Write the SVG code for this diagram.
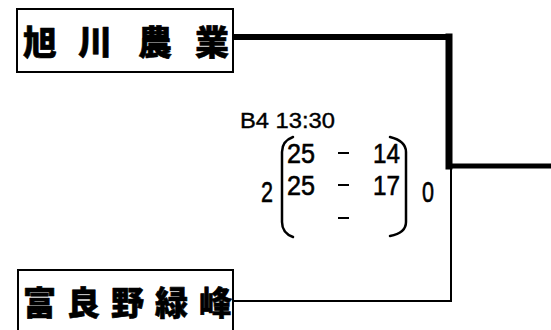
<svg xmlns="http://www.w3.org/2000/svg" width="551" height="330" viewBox="0 0 551 330">
<style>
.box{fill:#fff;stroke:#000;stroke-width:2}
.team{font-family:"Noto Sans CJK JP","Noto Sans CJK SC",sans-serif;font-weight:900;font-size:34px;fill:#000;stroke:#000;stroke-width:0.6;stroke-linejoin:round}
.num{font-family:"Liberation Sans",Arial,sans-serif;fill:#000;stroke:#000;stroke-width:0.6}
.thick{stroke:#000;fill:none;stroke-linecap:square}
.thin{stroke:#000;fill:none;stroke-width:2}
.br{stroke:#000;fill:none;stroke-width:2.5;stroke-linecap:round}
.dash{stroke:#000;stroke-width:2}
</style>
<rect width="551" height="330" fill="#fff"/>
<g id="connectors">
<line class="thick" x1="234" y1="37" x2="449" y2="37" stroke-width="6"/>
<line class="thick" x1="449" y1="37" x2="449" y2="166" stroke-width="7"/>
<line class="thick" x1="452" y1="166" x2="551" y2="166" stroke-width="5"/>
<polyline class="thin" points="234,301 451,301 451,166"/>
</g>
<g id="team-asahikawa">
<rect class="box" x="17" y="9" width="216" height="63"/>
<text class="team" x="23 56 78 111 138 171 195" y="55">旭 川 農 業</text>
</g>
<g id="team-furano">
<rect class="box" x="18" y="270" width="215" height="70"/>
<text class="team" x="23 67 111 155 199" y="315" style="font-size:33px">富良野緑峰</text>
</g>
<g id="score">
<text class="num" x="240" y="128" font-size="22" textLength="95" lengthAdjust="spacingAndGlyphs" style="stroke-width:0.4">B4 13:30</text>
<path class="br" d="M293,137 Q282,141 282,152 L282,222 Q282,233 293,237"/>
<path class="br" d="M390,137 Q406,141 406,152 L406,222 Q406,233 390,236"/>
<text class="num" x="287" y="163" font-size="28" textLength="28" lengthAdjust="spacingAndGlyphs">25</text>
<text class="num" x="373" y="163" font-size="28" textLength="27" lengthAdjust="spacingAndGlyphs">14</text>
<text class="num" x="287" y="195" font-size="28" textLength="28" lengthAdjust="spacingAndGlyphs">25</text>
<text class="num" x="373" y="195" font-size="28" textLength="27" lengthAdjust="spacingAndGlyphs">17</text>
<line class="dash" x1="338" y1="153" x2="349" y2="153"/>
<line class="dash" x1="338" y1="185" x2="349" y2="185"/>
<line class="dash" x1="338" y1="218" x2="349" y2="218"/>
<text class="num" x="261" y="202" font-size="30" textLength="12" lengthAdjust="spacingAndGlyphs">2</text>
<text class="num" x="422" y="202" font-size="30" textLength="12" lengthAdjust="spacingAndGlyphs">0</text>
</g>
</svg>
